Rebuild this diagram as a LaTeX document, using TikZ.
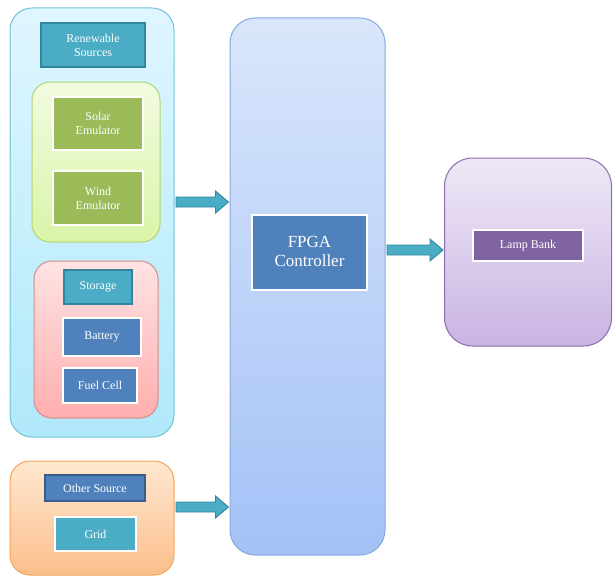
\documentclass[tikz,border=0pt]{standalone}
\usepackage{fontspec}
\setmainfont{Liberation Serif}
\usetikzlibrary{shadows,calc}
\definecolor{aqua}{HTML}{4BACC6}
\definecolor{aquadark}{HTML}{31859C}
\definecolor{blu}{HTML}{4F81BD}
\definecolor{bludark}{HTML}{385D8A}
\definecolor{olive}{HTML}{9BBB59}
\definecolor{purp}{HTML}{8064A2}
\definecolor{renT}{HTML}{DFF6FF}\definecolor{renB}{HTML}{B0E9FA}\definecolor{renD}{HTML}{74C3D8}
\definecolor{grnT}{HTML}{F2FBE0}\definecolor{grnB}{HTML}{DAF4A8}\definecolor{grnD}{HTML}{B0D676}
\definecolor{redT}{HTML}{FFE3E3}\definecolor{redB}{HTML}{FFAEAE}\definecolor{redD}{HTML}{D88A8A}
\definecolor{orgT}{HTML}{FFE7D0}\definecolor{orgB}{HTML}{FCBF8C}\definecolor{orgD}{HTML}{F4A25C}
\definecolor{fpgT}{HTML}{D9E6FB}\definecolor{fpgB}{HTML}{A4C1F6}\definecolor{fpgD}{HTML}{86A9DE}
\definecolor{lmpT}{HTML}{EFE8F7}\definecolor{lmpB}{HTML}{C9B4E2}\definecolor{lmpD}{HTML}{8A6EAD}
\tikzset{
  group/.style={draw, line width=1pt, rounded corners=#1},
  group/.default=20pt,
  labdark/.style={draw, line width=1.6pt, text=white, align=center, font=\fontsize{12}{14}\selectfont, inner sep=0pt},
  labwhite/.style={draw=white, line width=1.8pt, text=white, align=center, font=\fontsize{12}{14}\selectfont, inner sep=0pt,
     drop shadow={opacity=0.25, shadow xshift=1pt, shadow yshift=-1pt}},
  barrow/.style={fill=aqua, draw=aquadark, line width=0.9pt, line join=miter},
}
\newcommand\blockarrow[2]{%
  \draw[barrow] let \p1=(#1), \p2=(#2) in
    (\x1,\y1-5pt) -- (\x2-14pt,\y1-5pt) -- (\x2-14pt,\y1-11pt) -- (\x2-1pt,\y1) --
    (\x2-14pt,\y1+11pt) -- (\x2-14pt,\y1+5pt) -- (\x1,\y1+5pt) -- cycle;}
\begin{document}
\begin{tikzpicture}[x=1pt,y=-1pt]
\useasboundingbox (0,0) rectangle (613,578);
% renewable group
\node[group=22pt, draw=renD, top color=renT, bottom color=renB, minimum width=164pt, minimum height=429pt] (ren) at (92,222.5) {};
\node[labdark, fill=aqua, draw=aquadark, minimum width=104pt, minimum height=44pt] (rs) at (93,45) {Renewable\\Sources};
\node[group=18pt, draw=grnD, top color=grnT, bottom color=grnB, minimum width=128pt, minimum height=160pt] (green) at (96,162) {};
\node[labwhite, fill=olive, minimum width=90pt, minimum height=53pt] (solar) at (98,123.5) {Solar\\Emulator};
\node[labwhite, fill=olive, minimum width=90pt, minimum height=54pt] (wind) at (98,198) {Wind\\Emulator};
\node[group=18pt, draw=redD, top color=redT, bottom color=redB, minimum width=124pt, minimum height=157pt] (red) at (96,339.5) {};
\node[labdark, fill=aqua, draw=aquadark, minimum width=68pt, minimum height=34pt] (storage) at (98,287) {Storage};
\node[labwhite, fill=blu, minimum width=78pt, minimum height=38pt] (battery) at (102,337) {Battery};
\node[labwhite, fill=blu, minimum width=74pt, minimum height=35pt] (fuel) at (100,385.5) {Fuel Cell};
% other source group
\node[group=20pt, draw=orgD, top color=orgT, bottom color=orgB, minimum width=164pt, minimum height=114pt] (orange) at (92,518) {};
\node[labdark, fill=blu, draw=bludark, minimum width=100pt, minimum height=26pt] (other) at (95,488) {Other Source};
\node[labwhite, fill=aqua, minimum width=81pt, minimum height=34pt] (grid) at (95.5,534) {Grid};
% FPGA
\node[group=25pt, draw=fpgD, top color=fpgT, bottom color=fpgB, minimum width=155pt, minimum height=537pt] (fpga) at (307.5,286.5) {};
\node[labwhite, fill=blu, minimum width=115pt, minimum height=75pt, font=\fontsize{17}{20}\selectfont] (ctrl) at (309.5,252.5) {\raisebox{6pt}{\begin{tabular}{@{}c@{}}FPGA\\[-1pt]Controller\end{tabular}}};
% lamp
\node[group=28pt, draw=lmpD, top color=lmpT, bottom color=lmpB, minimum width=167pt, minimum height=188pt] (lamp) at (528,252) {};
\node[labwhite, fill=purp, minimum width=110pt, minimum height=31pt] (lampbank) at (528,245.5) {Lamp Bank};
% arrows
\coordinate (a1) at (176,202);
\coordinate (a2) at (176,507);
\coordinate (a3) at (387,250);
\blockarrow{a1}{fpga.west}
\blockarrow{a2}{fpga.west}
\blockarrow{a3}{lamp.west}
\end{tikzpicture}
\end{document}
